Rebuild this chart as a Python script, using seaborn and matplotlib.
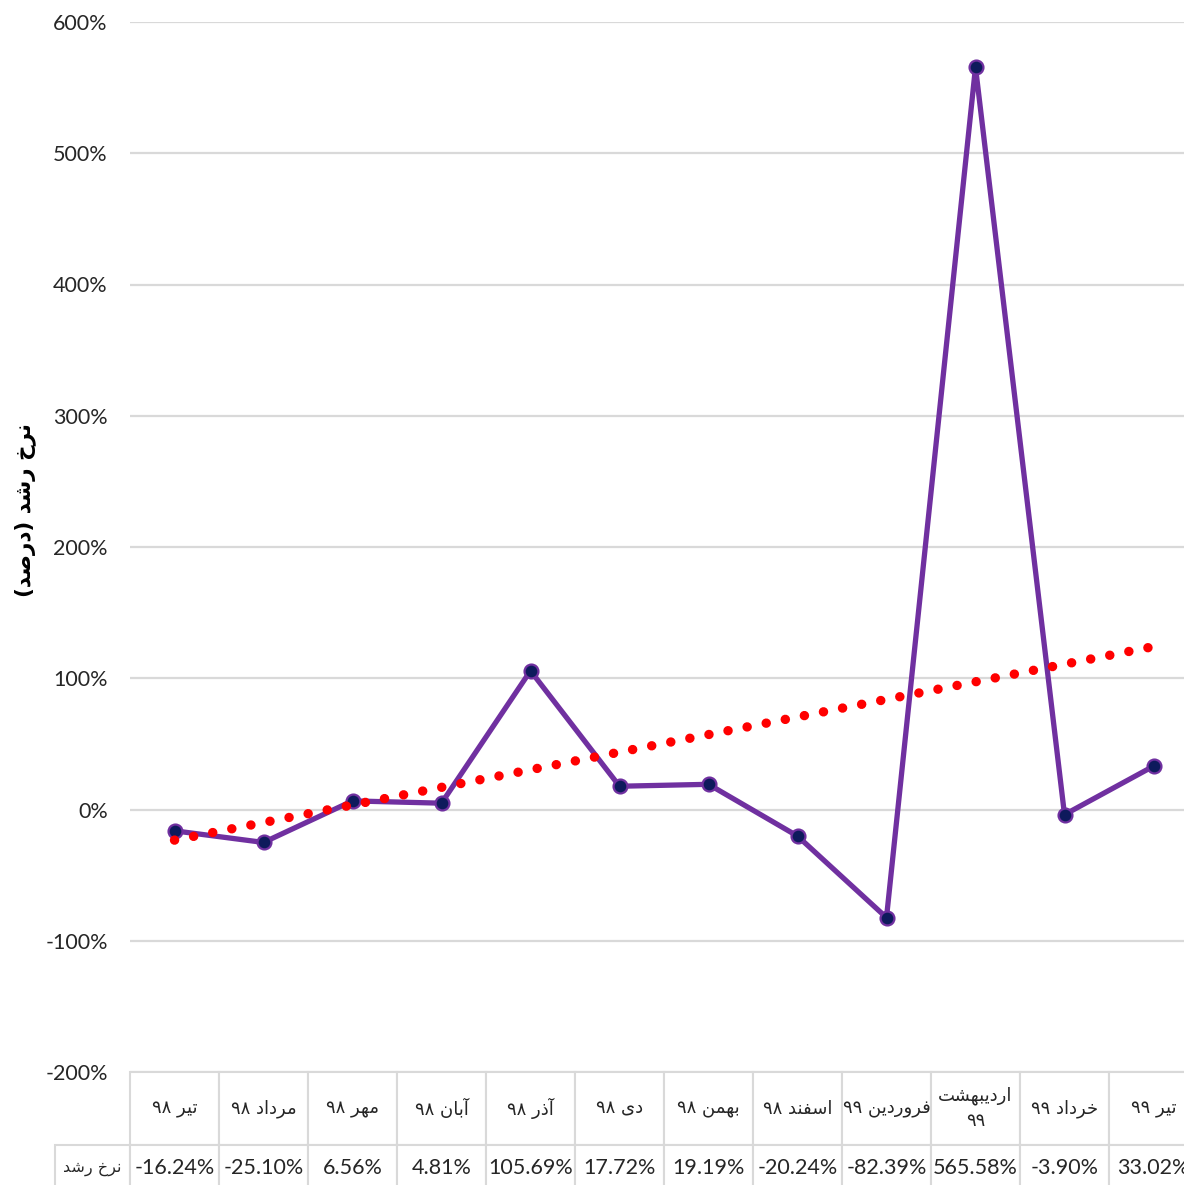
"""Monthly growth rate line chart with linear trend and data table."""

import re
import numpy as np
import pandas as pd
import matplotlib.pyplot as plt
import seaborn as sns
from matplotlib.table import Table

months = [
    "تیر ۹۸", "مرداد ۹۸", "مهر ۹۸", "آبان ۹۸", "آذر ۹۸", "دی ۹۸",
    "بهمن ۹۸", "اسفند ۹۸", "فروردین ۹۹", "اردیبهشت\n۹۹", "خرداد ۹۹", "تیر ۹۹",
]
growth = [-16.24, -25.10, 6.56, 4.81, 105.69, 17.72, 19.19, -20.24, -82.39, 565.58, -3.90, 33.02]
row_label = "نرخ رشد"
y_label = "نرخ رشد (درصد)"
y_ticks = [-200, -100, 0, 100, 200, 300, 400, 500, 600]

# presentation forms: isolated, final, initial, medial
FORMS = {
    "ا": ("\uFE8D", "\uFE8E", None, None),
    "آ": ("\uFE81", "\uFE82", None, None),
    "ب": ("\uFE8F", "\uFE90", "\uFE91", "\uFE92"),
    "ت": ("\uFE95", "\uFE96", "\uFE97", "\uFE98"),
    "خ": ("\uFEA5", "\uFEA6", "\uFEA7", "\uFEA8"),
    "د": ("\uFEA9", "\uFEAA", None, None),
    "ذ": ("\uFEAB", "\uFEAC", None, None),
    "ر": ("\uFEAD", "\uFEAE", None, None),
    "س": ("\uFEB1", "\uFEB2", "\uFEB3", "\uFEB4"),
    "ش": ("\uFEB5", "\uFEB6", "\uFEB7", "\uFEB8"),
    "ص": ("\uFEB9", "\uFEBA", "\uFEBB", "\uFEBC"),
    "ف": ("\uFED1", "\uFED2", "\uFED3", "\uFED4"),
    "م": ("\uFEE1", "\uFEE2", "\uFEE3", "\uFEE4"),
    "ن": ("\uFEE5", "\uFEE6", "\uFEE7", "\uFEE8"),
    "ه": ("\uFEE9", "\uFEEA", "\uFEEB", "\uFEEC"),
    "و": ("\uFEED", "\uFEEE", None, None),
    "ی": ("\uFEEF", "\uFEF0", "\uFEF3", "\uFEF4"),
}


def shape_line(text):
    out = []
    for i, ch in enumerate(text):
        forms = FORMS.get(ch)
        if forms is None:
            out.append(ch)
            continue
        prev = text[i - 1] if i > 0 else ""
        nxt = text[i + 1] if i + 1 < len(text) else ""
        join_prev = prev in FORMS and FORMS[prev][2] is not None
        join_next = forms[2] is not None and nxt in FORMS
        if join_prev and join_next:
            out.append(forms[3])
        elif join_prev:
            out.append(forms[1])
        elif join_next:
            out.append(forms[2])
        else:
            out.append(forms[0])
    vis = "".join(out)[::-1]
    vis = re.sub(r"[۰-۹0-9.%]+", lambda m: m.group(0)[::-1], vis)
    return vis.translate(str.maketrans("()", ")("))


def shape_fa(text):
    return "\n".join(shape_line(line) for line in text.split("\n"))


sns.set_theme(style="white")
plt.rcParams["font.family"] = ["Lato", "DejaVu Sans"]

df = pd.DataFrame({"pos": np.arange(len(growth)), "growth": growth})

# plot area runs past the right edge of the image, as in the source chart
fig = plt.figure(figsize=(11.84, 11.85), dpi=100)
ax = fig.add_axes([130 / 1184, 113 / 1185, 1068 / 1184, 1050 / 1185])
ax.set_facecolor("white")

sns.lineplot(
    data=df, x="pos", y="growth", ax=ax, color="#7030A0", linewidth=3.8,
    marker="o", markersize=10, markerfacecolor="#0E1A5C",
    markeredgecolor="#7030A0", markeredgewidth=1.6, zorder=3,
)
sns.regplot(
    data=df, x="pos", y="growth", ax=ax, scatter=False, ci=None, color="#FF0000",
    line_kws=dict(linestyle=(0, (0.01, 2.05)), linewidth=6.8,
                  dash_capstyle="round", zorder=4),
)

ax.set_xlim(-0.5, len(growth) - 0.5)
ax.set_ylim(-200, 600)
ax.set_yticks(y_ticks)
ax.set_yticklabels([f"{v}%" for v in y_ticks], fontsize=15.5, color="#262626")
ax.set_xticks([])
ax.set_xlabel("")
ax.tick_params(axis="y", length=0, pad=16)
ax.yaxis.grid(True, color="#D9D9D9", linewidth=1.6)
ax.set_axisbelow(True)
for side in ax.spines.values():
    side.set_visible(False)

ax.set_ylabel(shape_fa(y_label), fontsize=15.5, fontweight="bold",
              family="DejaVu Sans", color="black")
ax.yaxis.set_label_coords(-0.088, 0.535)

# data table under the axes
lab_w = 75 / 1068
hdr_h = 73 / 1050
val_h = 46 / 1050
tbl = Table(ax, bbox=[-lab_w, -(hdr_h + val_h), 1 + lab_w, hdr_h + val_h])
tbl.auto_set_font_size(False)
col_w = 1 / len(months)
for j, name in enumerate(months):
    c = tbl.add_cell(0, j + 1, width=col_w, height=hdr_h, text=shape_fa(name),
                     loc="center", facecolor="white", edgecolor="#D9D9D9")
    c.get_text().set_fontsize(13)
    c.get_text().set_family("DejaVu Sans")
    c.get_text().set_linespacing(1.5)
    c.set_linewidth(1.5)
c = tbl.add_cell(1, 0, width=lab_w, height=val_h, text=shape_fa(row_label),
                 loc="center", facecolor="white", edgecolor="#D9D9D9")
c.get_text().set_fontsize(11.5)
c.get_text().set_family("DejaVu Sans")
c.set_linewidth(1.5)
for j, v in enumerate(growth):
    c = tbl.add_cell(1, j + 1, width=col_w, height=val_h, text=f"{v:.2f}%",
                     loc="center", facecolor="white", edgecolor="#D9D9D9")
    c.get_text().set_fontsize(15.5)
    c.set_linewidth(1.5)
ax.add_table(tbl)

fig.savefig("out.png", dpi=100)
plt.close(fig)
